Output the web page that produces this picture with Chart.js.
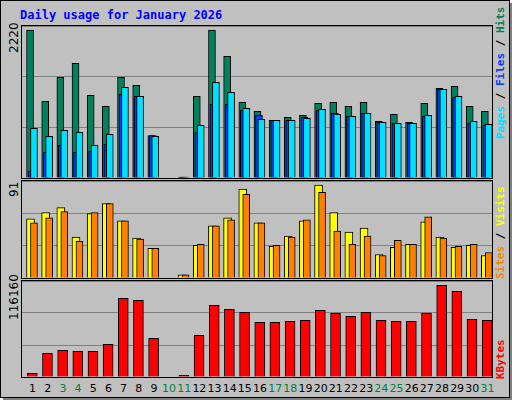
<!DOCTYPE html>
<html>
<head>
<meta charset="utf-8">
<script src="https://cdn.jsdelivr.net/npm/chart.js@4"></script>
<style>
body { margin: 0; background: #fff; }
#frame { position: absolute; left: 0; top: 0; width: 508px; height: 396px; background: #C0C0C0;
  border: 1px solid #000; box-shadow: 3px 3px 0 #808080; }
.panel { position: absolute; left: 20px; width: 470px; border: 1px solid #000; background: #C0C0C0; }
.panel canvas { display: block; }
#title { position: absolute; left: 19px; top: 7px; font: bold 12px "DejaVu Sans Mono", monospace; color: #0000FF; }
.vlab { position: absolute; transform-origin: left top; transform: rotate(-90deg); white-space: nowrap;
  font: 12px "DejaVu Sans", sans-serif; }
.rlab { position: absolute; transform-origin: left top; transform: rotate(-90deg); white-space: nowrap;
  font: bold 11px "DejaVu Sans Mono", monospace; }
#days { position: absolute; top: 381px; left: 0; font: 11px "DejaVu Sans", sans-serif; }
#days span { position: absolute; transform: translateX(-50%); }
</style>
</head>
<body>
<div id="frame">
  <div id="title">Daily usage for January 2026</div>
  <div class="panel" style="top:24px"><canvas id="c1" width="470" height="152"></canvas></div>
  <div class="panel" style="top:179px"><canvas id="c2" width="470" height="97"></canvas></div>
  <div class="panel" style="top:279px"><canvas id="c3" width="470" height="96"></canvas></div>
  <div class="vlab" style="left:6px;top:52px">2220</div>
  <div class="vlab" style="left:6px;top:196px">91</div>
  <div class="vlab" style="left:6px;top:319px">116160</div>
  <div class="rlab" style="left:493px;top:138px"><span style="color:#00E0FF">Pages</span> / <span style="color:#0040FF">Files</span> / <span style="color:#00805C">Hits</span></div>
  <div class="rlab" style="left:493px;top:278px"><span style="color:#FF8000">Sites</span> / <span style="color:#FFFF00">Visits</span></div>
  <div class="rlab" style="left:493px;top:378px"><span style="color:#FF0000">KBytes</span></div>
  <div id="days"></div>
</div>
<script>
// day numbers and weekend days (coloured green on the axis)
const days = [];
for (let d = 1; d <= 31; d++) days.push(d);
const weekends = [3, 4, 10, 11, 17, 18, 24, 25, 31];

const hits = [2220,1150,1510,1720,1240,1075,1510,1390,635,0,12,1225,2220,1825,1135,1000,865,910,940,1120,1135,1075,1135,850,955,835,1120,1345,1375,1075,1000];
const files = [105,385,490,385,400,505,1255,1225,635,0,12,685,1105,1105,1015,940,865,865,910,1015,970,925,970,835,820,820,925,1330,1210,820,790];
const pages = [745,625,715,685,490,655,1360,1225,625,0,12,790,1435,1285,1045,880,865,865,895,1030,955,925,970,835,820,820,940,1330,1225,850,805];
const visits = [58,64,69,40,63,73,56,39,29,0,3,32,51,59,87,54,31,41,56,91,64,45,49,23,30,33,55,40,30,32,22];
const sites = [54,59,65,36,64,73,56,38,29,0,3,33,51,57,82,54,32,40,57,84,46,33,41,22,37,33,60,39,31,33,25];
const kbytes = [4600,30000,33800,32500,32500,41400,99700,97200,49000,0,2000,52800,90800,85800,82000,69300,69300,70600,71800,84500,80700,76900,82000,71800,70600,70600,80700,116160,108600,73100,71800];

// x axis runs 0.3..31.3 so each day's bar group sits where webalizer puts it
const xMin = 0.3, xMax = 31.3;

function pts(values, offset) {
    return values.map((v, i) => ({x: days[i] + offset, y: v}));
}

// lower order is drawn on top
function ds(values, offset, color, width, order) {
    return {
        data: pts(values, offset),
        backgroundColor: color,
        borderColor: '#000',
        borderWidth: 1,
        borderSkipped: 'bottom',
        barThickness: width,
        grouped: false,
        order: order
    };
}

function makeChart(id, datasets, max) {
    return new Chart(document.getElementById(id), {
        type: 'bar',
        data: {datasets: datasets},
        options: {
            responsive: false,
            animation: false,
            devicePixelRatio: 1,
            layout: {padding: 0},
            plugins: {legend: {display: false}, tooltip: {enabled: false}},
            scales: {
                x: {type: 'linear', min: xMin, max: xMax, offset: false, display: false},
                y: {
                    min: 0, max: max,
                    ticks: {display: false, stepSize: max / 3},
                    grid: {color: '#808080', drawTicks: false, lineWidth: 1},
                    border: {display: false},
                    afterFit: function (axis) { axis.width = 0; }
                }
            }
        }
    });
}

makeChart('c1', [
    ds(hits, -0.17, '#00805C', 7, 2),
    ds(files, -0.07, '#0040FF', 7, 1),
    ds(pages, 0.09, '#00E0FF', 7, 0)
], 2280);

makeChart('c2', [
    ds(visits, -0.14, '#FFFF00', 8, 1),
    ds(sites, 0.09, '#FF8000', 7, 0)
], 95);

makeChart('c3', [
    ds(kbytes, -0.02, '#FF0000', 10, 0)
], 121600);

// day labels under the bottom panel
let dayBox = document.getElementById('days');
for (let i = 0; i < days.length; i++) {
    let px = 21 + (days[i] - xMin) / (xMax - xMin) * 470;
    let color = weekends.includes(days[i]) ? '#008040' : '#000';
    dayBox.insertAdjacentHTML('beforeend', `<span style="left:${px}px;color:${color}">${days[i]}</span>`);
}
</script>
</body>
</html>
